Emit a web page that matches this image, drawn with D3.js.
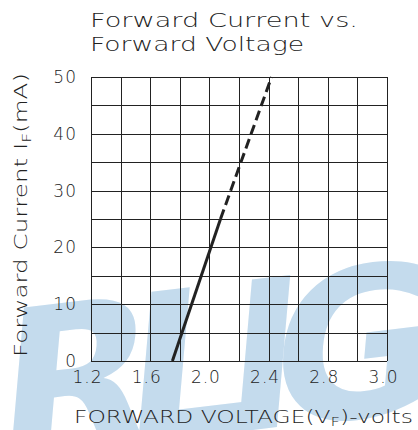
<!DOCTYPE html>
<html><head><meta charset="utf-8">
<script src="https://cdn.jsdelivr.net/npm/d3@7"></script>
<style>
html,body{margin:0;padding:0;background:#fff;}
svg{display:block;}
text{font-family:"DejaVu Sans",sans-serif;font-weight:200;fill:#222;}
</style></head>
<body>
<svg id="c" width="418" height="430"></svg>
<script>
// ---- data ----
const titleLines = ["Forward Current vs.", "Forward Voltage"];
const xTickValues = [1.2, 1.6, 2.0, 2.4, 2.8, 3.2];
const xTickLabels = ["1.2", "1.6", "2.0", "2.4", "2.8", "3.0"];
const yTickValues = [0, 10, 20, 30, 40, 50];
const solidV = [1.75, 2.075];
const solidI = [0, 25];
const dashV = [2.075, 2.42];
const dashI = [25, 50];
const watermark = "RLIG";

const svg = d3.select("#c");
const W = 418, H = 430;
const m = {left: 91, right: 31, top: 77, bottom: 69};
const x = d3.scaleLinear().domain([1.2, 3.2]).range([m.left, W - m.right]);
const y = d3.scaleLinear().domain([0, 50]).range([H - m.bottom, m.top]);

// watermark
svg.append("text")
  .attr("transform", "translate(-8,462) rotate(-7) skewX(-12)")
  .attr("textLength", 445).attr("lengthAdjust", "spacing")
  .style("font-size", "205px").style("font-weight", "bold")
  .style("fill", "#c4dbed")
  .text(watermark);

// grid
const g = svg.append("g");
const xGrid = d3.range(1.2, 3.2001, 0.2);
const yGrid = d3.range(0, 50.001, 5);
g.selectAll(".vx").data(xGrid).join("line")
  .attr("x1", d => Math.round(x(d)) + 0.5).attr("x2", d => Math.round(x(d)) + 0.5)
  .attr("y1", y(0)).attr("y2", y(50))
  .attr("stroke", "#222").attr("stroke-width", 1);
g.selectAll(".hy").data(yGrid).join("line")
  .attr("y1", d => Math.round(y(d)) + 0.5).attr("y2", d => Math.round(y(d)) + 0.5)
  .attr("x1", x(1.2)).attr("x2", x(3.2))
  .attr("stroke", "#222").attr("stroke-width", 1);

// axes tick labels
const xAxis = d3.axisBottom(x).tickValues(xTickValues)
  .tickFormat((d, i) => xTickLabels[i]).tickSize(0).tickPadding(10);
const xa = svg.append("g").attr("transform", `translate(-4,${y(0)})`).call(xAxis);
xa.select(".domain").remove();
xa.selectAll("text").style("font-size", "17px").style("letter-spacing", "1px")
  .style("font-family", '"DejaVu Sans",sans-serif').attr("fill", "#222");

const yAxis = d3.axisLeft(y).tickValues(yTickValues).tickSize(0).tickPadding(14);
const ya = svg.append("g").attr("transform", `translate(${m.left},0)`).call(yAxis);
ya.select(".domain").remove();
ya.selectAll("text").style("font-size", "17px").style("letter-spacing", "1px")
  .style("font-family", '"DejaVu Sans",sans-serif').attr("fill", "#222");

// curve
const line = d3.line().x(d => x(d[0])).y(d => y(d[1]));
svg.append("path").datum(d3.zip(solidV, solidI)).attr("d", line)
  .attr("fill", "none").attr("stroke", "#222").attr("stroke-width", 3);
svg.append("path").datum(d3.zip(dashV, dashI)).attr("d", line)
  .attr("fill", "none").attr("stroke", "#222").attr("stroke-width", 3)
  .attr("stroke-dasharray", "10,5");

// title
svg.append("text").attr("x", 90).attr("y", 27)
  .attr("textLength", 268).attr("lengthAdjust", "spacingAndGlyphs")
  .style("font-size", "20px").text(titleLines[0]);
svg.append("text").attr("x", 90).attr("y", 51)
  .attr("textLength", 214).attr("lengthAdjust", "spacingAndGlyphs")
  .style("font-size", "20px").text(titleLines[1]);

// y title
const yt = svg.append("text")
  .attr("transform", "translate(27,357) rotate(-90)")
  .attr("textLength", 284).attr("lengthAdjust", "spacingAndGlyphs")
  .style("font-size", "17px");
yt.append("tspan").text("Forward Current I");
yt.append("tspan").attr("dy", 4).style("font-size", "12px").text("F");
yt.append("tspan").attr("dy", -4).text("(mA)");

// x title
const xt = svg.append("text").attr("x", 74).attr("y", 423)
  .attr("textLength", 339).attr("lengthAdjust", "spacingAndGlyphs")
  .style("font-size", "17px");
xt.append("tspan").text("FORWARD VOLTAGE(V");
xt.append("tspan").attr("dy", 3).style("font-size", "12px").text("F");
xt.append("tspan").attr("dy", -3).text(")-volts");
</script>
</body></html>
